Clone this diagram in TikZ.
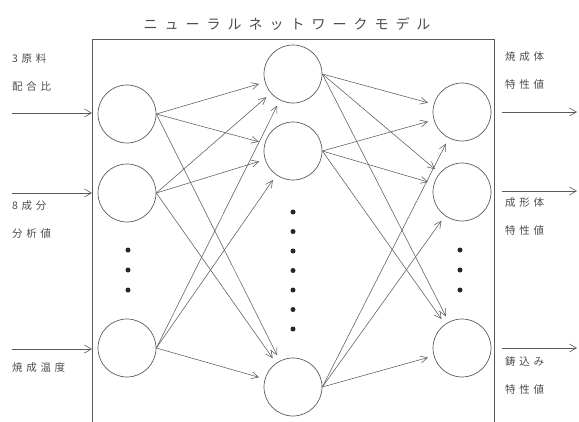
\documentclass[tikz,border=0pt]{standalone}
\usepackage{fontspec}
\newfontfamily\jplabel[LetterSpace=35]{Noto Sans CJK JP}
\newfontfamily\jptitle[LetterSpace=50]{Noto Sans CJK JP}
\usetikzlibrary{arrows.meta,positioning}
\definecolor{inkgray}{RGB}{90,90,90}

\begin{document}
\begin{tikzpicture}[x=1pt,y=-1pt,
  neuron/.style={circle, draw=inkgray, line width=0.7pt, minimum size=58pt, inner sep=0pt},
  link/.style={-{Straight Barb[length=7pt,width=7pt]}, draw=inkgray, line width=0.55pt, shorten >=6pt},
  io/.style={-{Straight Barb[length=7pt,width=8pt]}, draw=inkgray, line width=0.6pt},
  lbl/.style={font=\jplabel\fontsize{10.5}{28}\selectfont, text=black!70, align=left,
              anchor=west, inner sep=0pt},
  dot/.style={circle, fill=black!85, minimum size=5pt, inner sep=0pt}
]
\useasboundingbox (0,0) rectangle (579,421);

% Title
\node[font=\jptitle\fontsize{14}{14}\selectfont, text=black!70] (title) at (287,24)
  {ニューラルネットワークモデル};

% Frame (open at the bottom)
\coordinate (fsw) at (92,425);
\coordinate (fnw) at (92,39);
\coordinate (fne) at (494,39);
\coordinate (fse) at (494,425);
\draw[inkgray, line width=0.8pt] (fsw) -- (fnw) -- (fne) -- (fse);

% Input layer
\node[neuron] (i1) at (127,114) {};
\node[neuron] (i2) at (127,193) {};
\node[neuron] (i3) at (127,348) {};
\foreach \y [count=\k] in {250,270,290}
  \node[dot] (idot\k) at (128,\y) {};

% Hidden layer
\node[neuron] (h1) at (293,74) {};
\node[neuron] (h2) at (293,151) {};
\node[neuron] (h3) at (293,387) {};
\foreach \y [count=\k] in {212,231.5,251,270.5,290,309.5,329}
  \node[dot] (hdot\k) at (293,\y) {};

% Output layer
\node[neuron] (o1) at (462,112) {};
\node[neuron] (o2) at (462,192) {};
\node[neuron] (o3) at (462,348) {};
\foreach \y [count=\k] in {250,270,290}
  \node[dot] (odot\k) at (460,\y) {};

% Links
\foreach \a in {i1,i2,i3}
  \foreach \b in {h1,h2,h3}
    \draw[link] (\a.east) -- (\b);
\foreach \a in {h1,h2,h3}
  \foreach \b in {o1,o2,o3}
    \draw[link] (\a.east) -- (\b);

% Inputs
\coordinate (in1) at (12,113);
\coordinate (in2) at (12,193);
\coordinate (in3) at (12,349);
\draw[io] (in1) -- (in1 -| fnw);
\draw[io] (in2) -- (in2 -| fnw);
\draw[io] (in3) -- (in3 -| fnw);
\node[lbl] (lin1) at (12,73) {3原料\\配合比};
\node[lbl] (lin2) at (12,220) {8成分\\分析値};
\node[lbl] (lin3) at (12,368) {焼成温度};

% Outputs
\coordinate (out1) at (577,112);
\coordinate (out2) at (577,191);
\coordinate (out3) at (577,348);
\draw[io] (out1 -| fne) ++(8,0) coordinate (os1) -- (out1);
\draw[io] (out2 -| fne) ++(8,0) coordinate (os2) -- (out2);
\draw[io] (out3 -| fne) ++(8,0) coordinate (os3) -- (out3);
\node[lbl] (lout1) at (505,71) {焼成体\\特性値};
\node[lbl] (lout2) at (505,217) {成形体\\特性値};
\node[lbl] (lout3) at (505,376) {鋳込み\\特性値};
\end{tikzpicture}
\end{document}
